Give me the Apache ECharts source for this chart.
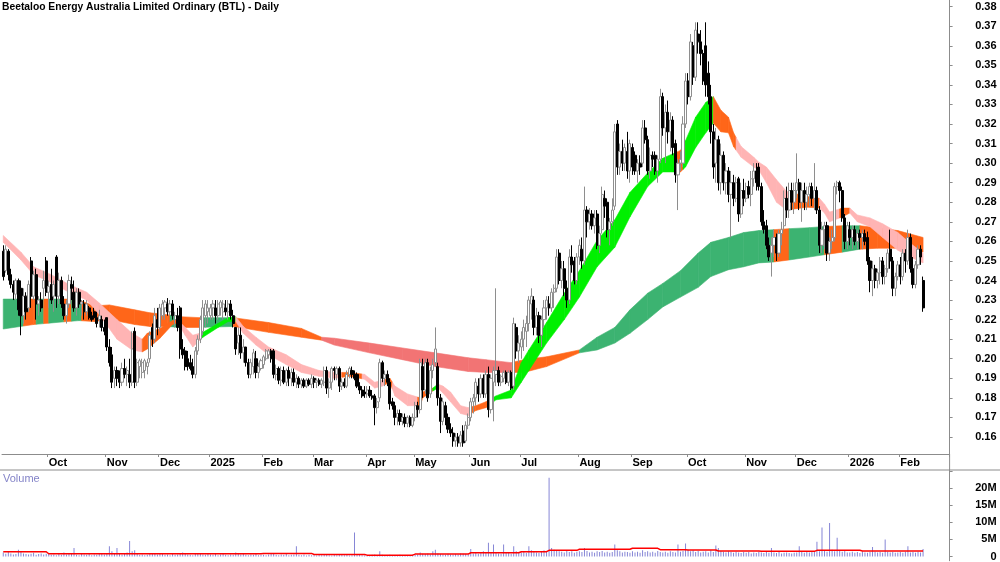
<!DOCTYPE html>
<html><head><meta charset="utf-8">
<script src="https://cdn.jsdelivr.net/npm/echarts@6/dist/echarts.min.js"></script>
<style>html,body{margin:0;padding:0;background:#fff}#c{width:1000px;height:562px}</style>
</head><body><div id="c"></div>
<script>
// ---- months (first month = partial Sep 2024, not labelled) ----
const monthLabels = ['Sep','Oct','Nov','Dec','2025','Feb','Mar','Apr','May','Jun','Jul','Aug','Sep','Oct','Nov','Dec','2026','Feb'];
const monthBars   = [18,23,21,20,21,20,21,19,22,20,23,21,22,23,20,21,20,10];

// ---- daily prices, in thousandths of a dollar ----
const openP = [
255,245,255,243,238,233,240,236,222,232, 226,250,232,243,228,230,236,250,234,238,
232,252,232,240,228,222,228,238,234,226, 234,228,228,224,226,222,224,221,220,220,
216,221,206,202,190,194,190,188,195,192, 192,188,214,188,196,193,194,196,200,216,
210,220,216,222,226,228,224,228,220,222, 226,205,204,200,198,196,192,204,210,214,
222,224,222,226,226,222,226,224,226,224, 228,222,216,208,212,203,206,198,192,196,
200,193,195,197,200,202,204,204,192,195, 189,194,188,194,190,193,188,190,187,189,
186,189,187,190,188,189,187,188,194,185, 188,195,192,195,186,188,186,192,194,192,
192,186,184,183,182,184,181,181,175,180, 198,190,192,188,178,176,170,172,168,170,
167,170,166,170,176,174,196,184,198,182, 194,198,196,180,168,176,170,164,162,158,
160,157,163,158,166,170,178,180,186,182, 190,182,192,174,188,192,194,188,190,193,
188,193,186,216,204,206,210,214,218,228, 230,216,222,212,220,226,228,226,234,236,
254,240,246,236,230,252,250,240,252,256, 250,276,270,274,268,274,258,266,282,280,
266,270,278,320,298,306,300,306,296,308, 304,296,300,300,318,312,296,304,304,296,
302,334,318,326,316,322,310,294,300,300, 320,342,334,360,344,366,362,356,360,346,
334,316,300,312,290,304,290,296,284,290, 282,292,274,286,282,288,284,292,296,298,
288,270,268,258,254,258,262,254,264,268, 282,276,286,280,286,290,280,286,280,284,
288,282,286,276,258,266,268,254,260,262, 288,290,286,272,260,266,262,266,260,264,
262,264,262,250,240,246,240,244,250,242, 246,256,250,236,242,248,242,254,250,262,
246,238,248,256,240];
const highP = [
258,258,256,246,240,241,241,240,236,234, 240,252,245,246,232,234,245,252,240,246,
240,253,244,242,232,230,243,242,240,236, 236,230,230,230,227,224,226,224,225,222,
220,221,210,206,196,196,194,198,200,196, 200,214,216,200,200,200,200,200,214,218,
226,226,228,230,230,231,230,230,224,226, 227,210,206,204,202,200,206,212,222,230,
230,230,228,230,230,230,230,230,230,230, 230,225,216,216,216,210,206,200,200,205,
204,198,200,202,205,205,205,205,197,196, 196,196,195,196,195,195,192,191,190,190,
190,190,192,191,190,190,190,196,196,190, 196,196,196,196,190,190,194,196,196,194,
193,188,186,186,186,186,184,182,180,200, 199,194,194,190,180,178,174,174,172,172,
171,171,172,178,178,200,200,200,200,196, 200,216,198,182,180,178,172,167,165,162,
162,163,166,168,172,180,182,190,190,192, 192,194,196,192,196,236,196,192,194,194,
194,194,221,218,212,214,220,222,232,236, 232,226,224,222,230,232,232,236,238,256,
256,250,250,240,256,258,252,254,261,262, 288,278,277,276,276,276,268,288,286,282,
272,282,320,322,310,312,310,316,312,310, 306,302,304,322,322,314,308,306,306,304,
338,336,330,332,326,324,312,302,306,324, 346,346,366,362,372,372,368,358,372,352,
340,320,318,314,310,306,300,298,296,294, 293,293,290,292,290,291,296,300,300,300,
290,276,271,262,262,266,264,266,270,286, 288,290,290,290,305,292,290,290,288,290,
290,300,288,278,270,270,270,262,266,290, 291,291,288,274,270,270,268,268,266,266,
266,266,265,252,250,248,246,252,252,248, 256,266,252,244,250,252,256,256,266,264,
252,250,258,258,242];
const lowP = [
240,244,240,236,230,230,222,212,218,220, 224,226,230,220,222,224,230,232,226,228,
224,226,228,226,220,218,226,230,224,222, 226,222,220,222,220,219,220,216,216,214,
212,204,196,185,185,186,185,186,190,186, 185,186,185,186,190,190,190,192,198,206,
208,212,214,220,220,222,222,220,216,214, 200,200,194,194,194,190,190,202,208,212,
216,218,220,220,218,220,222,220,222,220, 220,216,202,202,200,198,196,190,190,192,
190,190,194,195,199,200,198,190,189,187, 186,187,186,186,186,186,185,185,185,185,
185,186,185,185,185,186,185,186,182,180, 184,189,189,183,184,185,185,190,190,189,
185,182,180,180,180,180,179,166,172,178, 188,186,186,174,174,166,166,166,166,165,
165,165,165,168,170,172,180,182,178,180, 190,196,176,162,166,166,162,160,155,155,
155,155,155,157,164,168,172,176,178,180, 180,180,170,172,168,186,186,186,188,187,
186,184,184,200,198,200,204,206,214,220, 212,212,208,206,216,220,222,224,226,234,
238,236,232,226,228,244,238,238,248,246, 248,262,266,266,264,256,254,264,272,262,
258,268,276,294,294,296,296,292,290,294, 294,290,294,298,310,294,292,298,294,290,
300,314,300,310,306,304,290,276,296,298, 318,330,332,340,342,356,350,340,334,330,
310,292,290,286,284,286,284,280,262,278, 280,270,272,278,280,282,278,288,286,286,
268,264,256,250,242,252,250,252,258,266, 272,272,276,274,282,276,270,276,276,278,
278,276,274,254,254,256,250,250,256,260, 284,280,270,256,256,258,256,258,256,256,
256,258,248,234,232,236,236,238,238,238, 244,246,232,232,240,238,240,244,248,244,
236,236,246,248,224];
const closeP = [
242,256,243,238,234,240,225,222,232,224, 238,232,243,228,230,226,240,234,237,230,
238,232,240,228,222,228,240,236,226,234, 228,229,224,228,221,220,221,218,222,216,
214,206,198,188,194,190,188,195,192,194, 188,205,188,198,199,198,199,198,212,210,
222,216,226,228,229,224,228,222,222,216, 205,202,196,196,195,192,204,210,220,226,
228,226,226,228,222,228,229,228,224,228, 222,218,205,212,203,206,198,192,198,203,
193,196,199,201,204,204,200,192,195,189, 194,188,194,190,193,188,190,187,189,186,
189,187,190,188,189,187,189,194,185,188, 195,194,195,186,188,186,192,195,192,190,
186,184,181,182,184,181,180,175,178,198, 190,192,188,177,176,170,172,168,170,167,
170,166,170,176,174,198,184,198,180,194, 197,205,180,168,178,170,164,162,158,160,
157,161,157,166,170,178,180,188,182,190, 182,192,174,190,194,194,188,191,193,188,
193,185,218,204,208,210,216,218,230,232, 216,222,212,220,226,230,226,234,236,252,
240,246,236,230,252,248,240,252,258,250, 276,270,274,268,272,258,264,284,278,266,
270,276,316,298,306,300,308,296,310,298, 296,300,298,318,312,296,304,302,296,302,
334,318,326,316,322,308,294,300,302,320, 342,334,362,344,368,362,356,342,340,334,
316,298,312,290,304,290,296,284,290,282, 290,274,286,282,288,284,292,296,290,288,
270,266,258,252,258,262,254,264,266,282, 276,286,280,286,290,280,286,280,284,288,
282,286,276,258,266,268,254,260,262,288, 290,286,272,260,268,262,266,260,264,262,
264,260,250,240,246,240,244,250,242,246, 254,250,236,242,248,242,254,250,262,246,
238,248,256,252,226];

// ---- daily volume, thousands of shares ----
const volK = [
1200,800,1500,900,600,700,2000,1300,900,700,600,800,1100,500,700,900,600,800,
700,500,600,400,900,500,1200,600,800,700,2500,500,400,700,600,500,800,400,600,500,900,700,600,
900,3000,1500,1000,2500,800,600,700,1200,4500,1500,1800,700,500,600,400,500,900,800,1000,600,
700,900,500,600,400,800,500,600,700,1200,900,600,500,400,700,900,800,600,500,700,
600,500,800,400,600,700,500,400,600,500,1200,800,600,700,500,400,600,500,700,400,500,
500,400,600,800,700,500,400,600,500,700,400,500,600,3000,500,400,600,300,500,400,
400,300,500,400,600,500,400,300,500,400,600,500,400,500,300,400,7000,600,500,400,300,
400,300,500,600,400,1500,500,400,300,500,400,300,400,500,300,400,300,400,500,
500,600,1200,800,700,900,600,1500,2000,900,700,600,500,800,600,500,700,600,900,800,700,600,
2200,900,1200,800,1000,1500,1200,4000,1200,3500,1200,900,800,3500,1000,1200,800,3000,1500,1200,
1200,1500,1000,3000,1800,1500,1200,1000,1400,1800,1600,23000,2500,2000,1800,1500,1400,1200,1600,1300,1500,1100,1400,
1500,1300,2500,1600,1200,1400,1100,1500,1300,1600,1200,1400,1100,1300,3500,1800,1500,1200,1400,1300,1100,
1500,1200,1400,1100,1800,1300,1500,1200,1400,1100,1600,1300,1200,1400,1100,1500,1300,1200,3500,1400,1600,3800,
2000,1500,1800,1300,1600,1200,1400,1500,1200,1800,1300,3200,2500,1600,1400,1200,1500,1300,1100,1400,1200,1000,1300,
1100,1300,900,1200,1000,1400,1200,1000,1300,1100,2500,1200,1000,1300,900,1100,1200,1000,900,1100,
1200,3000,1300,1100,1400,1200,1600,1300,4300,1500,8500,1800,1400,9800,2000,1500,5500,1800,1400,1600,1200,
1200,1400,1100,1300,1000,1500,1200,1100,1300,2800,1400,1200,1300,1100,5000,1400,1200,1300,1100,1200,
1300,1100,1400,3000,1200,1300,1100,1400,1200,2200];

// volume average (millions), constant from bar index onward
const volAvgRuns = [[0,1.4],[18,0.8],[103,0.9],[123,0.6],[144,0.4],[163,0.7],[185,1.1],[205,1.4],[216,1.8],[228,2.1],[249,2.4],[260,2.0],[271,1.9],[283,1.6],[300,1.5],[322,1.8],[340,1.6]];

// ---- short-term moving-average band (read edges, thousandths) ----
const shortIdx = [0,7,12,19,26,33,38,45,51,55,57,62,67,69,72,75,79,85,89,92,95,100,105,112,118,125,131,137,143,147,150,153,155,160,165,166,170,172,174,177,181,184,187,191,195,201,205,208,215,222,228,235,242,248,255,261,268,270,274,278,281,284,287,289,292,297,299,302,306,310,318,323,325,327,332,335,338,343,348,354,359,364];
const shortHi = [263,254.5,247,243,238,234,228.5,220,213,210,213,215.5,219.5,220,216,212,213.5,218,221,221.5,216.5,211,206,202,197,194,193,193,192,188,189,190,186,182,180,183,185,187,186,183,176,175,176,178,181,184,198,204.5,218.5,233.5,245,260.5,271,285,295,302.5,306.5,311.5,323.5,331,334,327,323.5,315.5,308.5,303,300.5,298,291.5,285.5,283,282,279,275,277,277,273.5,272,269,264.5,259,254];
const shortLo = [259.5,250.5,243,239,234,230,222.5,210,204.5,203.5,205,210.5,217.5,218.5,212,206,211,216,219,219,213,207,202,197,193,191,190,191,189.5,185,186,188,181,176,176,180,183.5,185,182.5,178,172,171,173.5,175,179,180,188,194,208,220,231.5,247,257,272.5,288,295.5,295.5,298,308,315.5,320.5,316,315.5,308.5,303,298,296.5,290,280,276,277.5,277,274.5,270,272.5,274.5,270,267.5,262,255.5,252,249];
const shortStates = [[0,'p'],[55,'o'],[69,'p'],[78,'g'],[92,'p'],[134,'o'],[142,'p'],[151,'o'],[154,'p'],[164,'o'],[170,'g'],[172,'p'],[185,'o'],[194,'g'],[266,'o'],[269,'g'],[281,'o'],[290,'p'],[311,'o'],[323,'p'],[331,'o'],[335,'p']];

// ---- long-term moving-average band ----
const longIdx = [0,12,25,30,36,42,52,58,65,70,78,91,105,118,126,131,145,158,171,184,191,201,206,215,228,235,242,248,255,261,268,275,280,287,293,299,305,311,319,324,332,339,346,354,364];
const longHi = [230.5,230.5,230.5,230,227,227.5,225,223.5,222.5,221.5,221,221,218.5,215.5,211,210.5,208,205.5,203,200.5,199.5,198,199.5,201,204.5,211,216,225,233.5,238.5,245,254,259.5,262,264.5,265.5,266,266.5,267,267.5,268,268,267,265.5,262];
const longLo = [215.2,217.5,219,219.5,219,220,217.5,216.5,216.5,216,216,216.5,213.5,211,209.5,207,203,199.5,196,193.5,193,193,193,196,203,204.5,208,213,220,226.5,231.5,236.5,242,245.5,247,249,249.5,250.5,252,253,254.5,256,256.5,256.5,254.5];
const longStates = [[0,'G'],[8,'o'],[13,'G'],[16,'o'],[18,'G'],[24,'o'],[27,'G'],[31,'o'],[66,'G'],[70,'o'],[79,'G'],[91,'o'],[126,'s'],[202,'o'],[228,'G'],[305,'o'],[311,'G'],[325,'o'],[332,'G'],[339,'o']];

const palette = {p:'#ffb4b4', o:'#ff6619', g:'#00f000', G:'#3cb371', s:'#f27474'};

// ---------------------------------------------------------------
const SLOTS = 375;
const nBars = closeP.length;
const cats = Array.from({length: SLOTS}, (_, i) => 'b' + i);
const monthAt = {};
let acc = 0;
monthBars.forEach((n, m) => { if (m > 0) monthAt[acc] = monthLabels[m]; acc += n; });
const isMonth = (i) => monthAt[i] !== undefined;

const candleData = closeP.map((c, i) => [openP[i] / 1000, c / 1000, lowP[i] / 1000, highP[i] / 1000]);
const volData = volK.map(v => v * 1000);
const volMA = [];
for (let i = 0; i < nBars; i++) {
  let v = 0;
  volAvgRuns.forEach(r => { if (r[0] <= i) v = r[1]; });
  volMA.push(v * 1e6);
}

function stateAt(states, idx) {
  let s = states[0][1];
  states.forEach(r => { if (r[0] <= idx) s = r[1]; });
  return s;
}

function bandSeries(name, idxs, hi, lo, states, z) {
  const data = [];
  for (let k = 0; k < idxs.length - 1; k++) {
    data.push([idxs[k], idxs[k + 1], hi[k] / 1000, lo[k] / 1000, hi[k + 1] / 1000, lo[k + 1] / 1000]);
  }
  return {
    type: 'custom', name, xAxisIndex: 0, yAxisIndex: 0, z, silent: true, clip: true,
    encode: {x: [0, 1], y: [2, 3, 4, 5]},
    renderItem(params, api) {
      const i0 = api.value(0), i1 = api.value(1);
      const a0 = api.coord([i0, api.value(2)]), b0 = api.coord([i0, api.value(3)]);
      const a1 = api.coord([i1, api.value(4)]), b1 = api.coord([i1, api.value(5)]);
      const cuts = [i0];
      states.forEach(r => { if (r[0] > i0 && r[0] < i1) cuts.push(r[0]); });
      cuts.push(i1);
      const P = (p, q, t) => [p[0] + (q[0] - p[0]) * t, p[1] + (q[1] - p[1]) * t];
      const children = [];
      for (let j = 0; j < cuts.length - 1; j++) {
        const s = cuts[j], e = cuts[j + 1];
        const ts = (s - i0) / (i1 - i0), te = (e - i0) / (i1 - i0);
        const col = palette[stateAt(states, s)];
        children.push({
          type: 'polygon',
          shape: {points: [P(a0, a1, ts), P(a0, a1, te), P(b0, b1, te), P(b0, b1, ts)]},
          style: {fill: col, stroke: col, lineWidth: 0.6}
        });
      }
      return {type: 'group', children};
    },
    data
  };
}

const FONT = 'Liberation Sans, Arial, sans-serif';
const chart = echarts.init(document.getElementById('c'), null, {renderer: 'canvas'});
chart.setOption({
  animation: false,
  backgroundColor: '#ffffff',
  textStyle: {fontFamily: FONT},
  title: [
    {text: 'Beetaloo Energy Australia Limited Ordinary (BTL) - Daily', left: 2, top: 2, padding: 0,
     textStyle: {fontFamily: FONT, fontSize: 10.3, fontWeight: 'bold', color: '#000'}},
    {text: 'Volume', left: 3, top: 473, padding: 0,
     textStyle: {fontFamily: FONT, fontSize: 11, fontWeight: 'normal', color: '#8484c8'}}
  ],
  grid: [
    {left: 2, top: 0, width: 947.6, height: 454},
    {left: 2, top: 470, width: 947.6, height: 92}
  ],
  xAxis: [
    {type: 'category', gridIndex: 0, data: cats, boundaryGap: true,
     axisLine: {show: true, lineStyle: {color: '#8c8c8c', width: 1}},
     axisTick: {show: true, interval: (i) => isMonth(i), length: 3, lineStyle: {color: '#8c8c8c'}},
     axisLabel: {show: true, interval: (i) => isMonth(i), formatter: (v, i) => monthAt[i] || '',
                 align: 'left', margin: 3, fontSize: 11, fontWeight: 'bold', color: '#000', fontFamily: FONT},
     splitLine: {show: false}},
    {type: 'category', gridIndex: 1, data: cats, boundaryGap: true,
     axisLine: {show: false}, axisTick: {show: false}, axisLabel: {show: false}, splitLine: {show: false}}
  ],
  yAxis: [
    {type: 'value', gridIndex: 0, position: 'right', min: 0.1513, max: 0.3834,
     minInterval: 0.01, maxInterval: 0.01, splitNumber: 23,
     axisLine: {show: true, lineStyle: {color: '#8c8c8c'}},
     axisTick: {show: true, length: 3, lineStyle: {color: '#8c8c8c'}},
     splitLine: {show: false},
     axisLabel: {showMinLabel: false, showMaxLabel: false, formatter: v => v.toFixed(2),
                 align: 'right', margin: 47, fontSize: 11, fontWeight: 'bold', color: '#000', fontFamily: FONT}},
    {type: 'value', gridIndex: 1, position: 'right', min: -1.24e6, max: 25.28e6,
     minInterval: 5e6, maxInterval: 5e6, splitNumber: 5,
     axisLine: {show: true, lineStyle: {color: '#8c8c8c'}},
     axisTick: {show: true, length: 3, lineStyle: {color: '#8c8c8c'}},
     splitLine: {show: false},
     axisLabel: {showMinLabel: false, showMaxLabel: false,
                 formatter: v => (v > 22e6 ? '' : (Math.abs(v) < 1 ? '0' : Math.round(v / 1e6) + 'M')),
                 align: 'right', margin: 47, fontSize: 11, fontWeight: 'bold', color: '#000', fontFamily: FONT}}
  ],
  graphic: [
    {type: 'line', shape: {x1: 0, y1: 470, x2: 1000, y2: 470}, style: {stroke: '#8c8c8c', lineWidth: 1}, silent: true},
    {type: 'line', shape: {x1: 949.6, y1: 454, x2: 949.6, y2: 470}, style: {stroke: '#8c8c8c', lineWidth: 1}, silent: true}
  ],
  series: [
    bandSeries('long', longIdx, longHi, longLo, longStates, 1),
    bandSeries('short', shortIdx, shortHi, shortLo, shortStates, 2),
    {type: 'candlestick', name: 'BTL', xAxisIndex: 0, yAxisIndex: 0, z: 3, barWidth: 2.6,
     data: candleData,
     itemStyle: {color: '#ffffff', color0: '#000000', borderColor: '#8e8e8e', borderColor0: '#000000', borderWidth: 1}},
    {type: 'bar', name: 'Volume', xAxisIndex: 1, yAxisIndex: 1, barWidth: 1, data: volData,
     itemStyle: {color: '#8686d6'}},
    {type: 'line', name: 'VolAvg', xAxisIndex: 1, yAxisIndex: 1, data: volMA, symbol: 'none',
     lineStyle: {color: '#ff0000', width: 1.5}, z: 4}
  ]
});
</script>
</body></html>
